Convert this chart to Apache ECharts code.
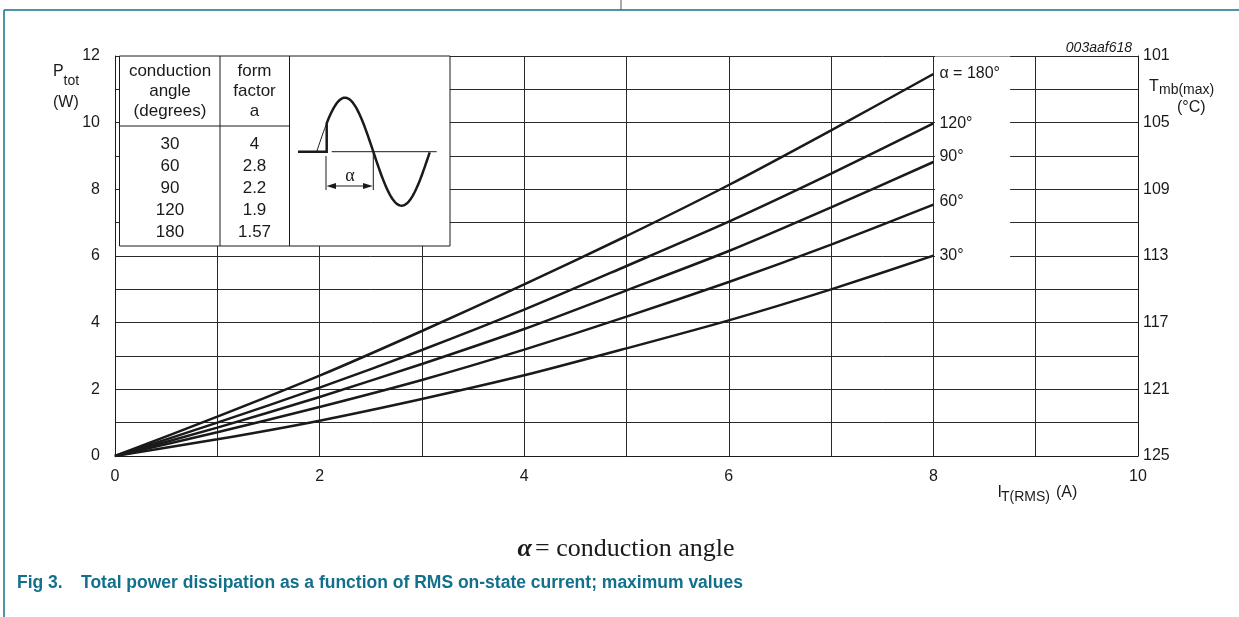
<!DOCTYPE html>
<html><head><meta charset="utf-8">
<script src="https://cdn.jsdelivr.net/npm/echarts@6/dist/echarts.min.js"></script>
<style>html,body{margin:0;padding:0;background:#fff}#c{width:1239px;height:617px}</style>
</head><body><div id="c"></div>
<script>
// ---- data ----
const currentA = [0, 1, 2, 3, 4, 5, 6, 7, 8];           // I_T(RMS) (A)
const p180 = [0, 1.18, 2.41, 3.75, 5.15, 6.60, 8.13, 9.77, 11.46];
const p120 = [0, 1.00, 2.05, 3.18, 4.39, 5.70, 7.03, 8.47, 9.98];
const p90  = [0, 0.85, 1.77, 2.76, 3.81, 4.97, 6.15, 7.46, 8.82];
const p60  = [0, 0.71, 1.47, 2.28, 3.19, 4.18, 5.22, 6.34, 7.54];
const p30  = [0, 0.50, 1.06, 1.71, 2.42, 3.23, 4.07, 5.00, 6.01];
const curveNames = ['α = 180°', '120°', '90°', '60°', '30°'];
const tableAngles = ['30', '60', '90', '120', '180'];
const tableForm = ['4', '2.8', '2.2', '1.9', '1.57'];
const rightTickLabels = ['125', '121', '117', '113', '109', '105', '101']; // Tmb(max) (°C) at Ptot 0,2,..,12

const FONT = '"Liberation Sans", Arial, Helvetica, sans-serif';
const INK = '#1a1a1a';
const TEAL = '#13708d';

const curves = [p180, p120, p90, p60, p30];
const labelOffsets = [[0, 0], [0, 0], [0, -5], [0, -3], [0, 0]];

const series = curves.map((vals, i) => ({
  type: 'line',
  name: curveNames[i],
  data: currentA.map((x, k) => [x, vals[k]]),
  symbol: 'none',
  smooth: 0.25,
  lineStyle: { color: INK, width: 2.5 },
  z: 5,
  endLabel: {
    show: true, formatter: curveNames[i], distance: 6, offset: labelOffsets[i],
    fontFamily: FONT, fontSize: 16, color: INK
  }
}));
// white label strip right of x = 8
series[0].markArea = {
  silent: true,
  itemStyle: { color: '#fff' },
  data: [[{ coord: [8.015, 5.22] }, { coord: [8.75, 11.985] }]]
};

// ---- inset (table + waveform), decoration in pixels ----
const g = [];
const tx = (text, x, y, size, opts = {}) => g.push({
  type: 'text', z: 120, silent: true,
  style: Object.assign({ text, x, y, font: `${size}px ${FONT}`, fill: INK,
    textAlign: 'center', textVerticalAlign: 'middle' }, opts)
});
const ln = (x1, y1, x2, y2, w = 1, c = INK) => g.push({
  type: 'line', z: 121, silent: true, shape: { x1, y1, x2, y2 }, style: { stroke: c, lineWidth: w }
});
g.push({ type: 'rect', z: 110, silent: true, shape: { x: 119.5, y: 56, width: 330.5, height: 190 },
  style: { fill: '#fff', stroke: INK, lineWidth: 1 } });
ln(220, 56, 220, 246);
ln(289.5, 56, 289.5, 246);
ln(119.5, 126, 289.5, 126);
tx('conduction', 170, 71, 17); tx('angle', 170, 91, 17); tx('(degrees)', 170, 111, 17);
tx('form', 254.5, 71, 17); tx('factor', 254.5, 91, 17); tx('a', 254.5, 111, 17);
const rowY = [144, 166, 188.5, 210.5, 232.5];
tableAngles.forEach((t, i) => tx(t, 170, rowY[i], 17));
tableForm.forEach((t, i) => tx(t, 254.5, rowY[i], 17));

// waveform sketch
const x0 = 316.7, half = 56.6, amp = 54, base = 151.7, xs = 326.7;
const sinPts = (a, b) => { const p = []; for (let x = a; x <= b + 0.01; x += 1) p.push([x, base - amp * Math.sin(Math.PI * (x - x0) / half)]); return p; };
g.push({ type: 'polyline', z: 121, silent: true, shape: { points: sinPts(x0, xs) }, style: { stroke: INK, lineWidth: 1, fill: null } });
g.push({ type: 'polyline', z: 122, silent: true,
  shape: { points: [[298, base], [xs, base]].concat(sinPts(xs, x0 + 2 * half)) },
  style: { stroke: INK, lineWidth: 2.5, fill: null, lineJoin: 'miter' } });
ln(331.7, base, 436.7, base, 1);
ln(326, 156, 326, 190, 1);
ln(373.3, 153, 373.3, 190, 1);
ln(332, 186, 367, 186, 1);
g.push({ type: 'polygon', z: 121, silent: true, shape: { points: [[326.5, 186], [336, 183], [336, 189]] }, style: { fill: INK } });
g.push({ type: 'polygon', z: 121, silent: true, shape: { points: [[372.8, 186], [363, 183], [363, 189]] }, style: { fill: INK } });
tx('α', 350, 176, 18, { font: `18px "Liberation Serif", serif` });

// axis names & annotations
tx('P', 53, 72, 16, { textAlign: 'left' });
tx('tot', 63.5, 81, 14, { textAlign: 'left' });
tx('(W)', 53, 103, 16, { textAlign: 'left' });
tx('T', 1149, 87, 16, { textAlign: 'left' });
tx('mb(max)', 1159, 90, 14, { textAlign: 'left' });
tx('(°C)', 1177, 108, 16, { textAlign: 'left' });
tx('I', 997.5, 492.5, 16, { textAlign: 'left' });
tx('T(RMS)', 1001, 497, 14, { textAlign: 'left' });
tx('(A)', 1056, 492.5, 16, { textAlign: 'left' });
tx('003aaf618', 1132, 48, 14, { textAlign: 'right', font: `italic 14px ${FONT}` });
g.push({ type: 'text', z: 120, silent: true, style: {
  text: '{a|α} {b|= conduction angle}', x: 626, y: 549, textAlign: 'center', textVerticalAlign: 'middle',
  rich: { a: { font: 'bold italic 26px "Liberation Serif", serif', fill: INK },
          b: { font: '26px "Liberation Serif", serif', fill: INK } } } });
tx('Fig 3.', 17, 583, 17.5, { textAlign: 'left', font: `bold 17.5px ${FONT}`, fill: TEAL });
tx('Total power dissipation as a function of RMS on-state current; maximum values', 81, 583, 17.5,
  { textAlign: 'left', font: `bold 17.5px ${FONT}`, fill: TEAL });
// page frame
ln(4, 10, 4, 617, 1.5, TEAL);
ln(4, 10, 1239, 10, 1.5, TEAL);
ln(621, 0, 621, 10, 1, '#555');

const chart = echarts.init(document.getElementById('c'), null, { renderer: 'canvas' });
chart.setOption({
  backgroundColor: '#fff',
  animation: false,
  grid: { left: 115, right: 101, top: 56, bottom: 161 },
  xAxis: {
    type: 'value', min: 0, max: 10, interval: 1,
    axisLine: { show: true, lineStyle: { color: INK, width: 1 } },
    axisTick: { show: false },
    axisLabel: { margin: 13, fontFamily: FONT, fontSize: 16, color: INK,
      formatter: v => (v % 2 === 0 ? String(v) : '') },
    splitLine: { show: true, lineStyle: { color: '#2a2a2a', width: 1 } }
  },
  yAxis: [{
    type: 'value', min: 0, max: 12, interval: 1, position: 'left',
    axisLine: { show: true, lineStyle: { color: INK, width: 1 } },
    axisTick: { show: false },
    axisLabel: { margin: 15, fontFamily: FONT, fontSize: 16, color: INK,
      formatter: v => (v % 2 === 0 ? String(v) : '') },
    splitLine: { show: true, lineStyle: { color: '#2a2a2a', width: 1 } }
  }, {
    type: 'value', min: 0, max: 12, interval: 2, position: 'right',
    axisLine: { show: true, lineStyle: { color: INK, width: 1 } },
    axisTick: { show: false },
    axisLabel: { margin: 5, fontFamily: FONT, fontSize: 16, color: INK,
      formatter: v => rightTickLabels[Math.round(v / 2)] },
    splitLine: { show: false }
  }],
  series,
  graphic: g
});
</script></body></html>
